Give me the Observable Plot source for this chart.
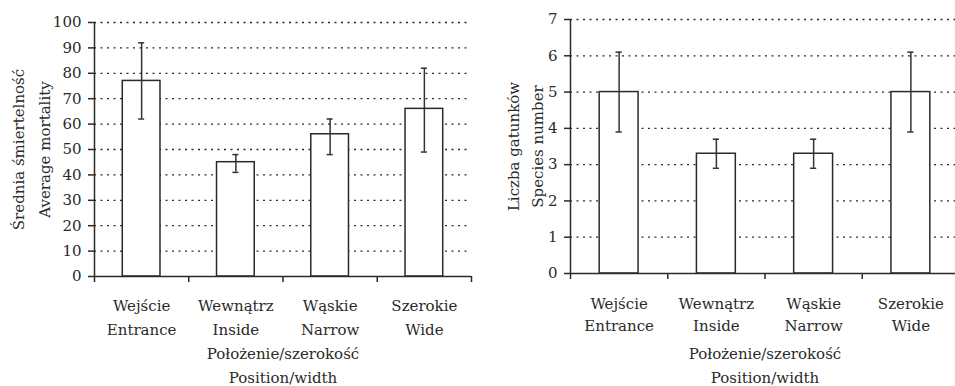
<!DOCTYPE html>
<html><head><meta charset="utf-8">
<script src="https://cdn.jsdelivr.net/npm/d3@7"></script>
<script src="https://cdn.jsdelivr.net/npm/@observablehq/plot@0.6"></script>
<style>
html,body{margin:0;padding:0;background:#fff;overflow:hidden;width:955px;height:386px}
#wrap{display:flex;width:955px;height:386px;overflow:hidden}
#wrap svg{flex:none;display:block;overflow:visible}
</style></head><body><div id="wrap"></div>
<script>
const categoriesPl = ["Wejście", "Wewnątrz", "Wąskie", "Szerokie"];
const categoriesEn = ["Entrance", "Inside", "Narrow", "Wide"];
const mortality = [77, 45, 56, 66];
const mortalityLow = [62, 41, 48, 49];
const mortalityHigh = [92, 48, 62, 82];
const species = [5, 3.3, 3.3, 5];
const speciesLow = [3.9, 2.9, 2.9, 3.9];
const speciesHigh = [6.1, 3.7, 3.7, 6.1];
const mortalityTicks = [0, 10, 20, 30, 40, 50, 60, 70, 80, 90, 100];
const speciesTicks = [0, 1, 2, 3, 4, 5, 6, 7];
const xTitle = "Położenie/szerokość\nPosition/width";
const yTitleLeft = "Średnia śmiertelność\nAverage mortality";
const yTitleRight = "Liczba gatunków\nSpecies number";

const ink = "#2a2a2a";
const font = "DejaVu Serif";

function panel(o) {
  const rows = o.values.map((v, i) => ({i, v, lo: o.low[i], hi: o.high[i], pl: categoriesPl[i], en: categoriesEn[i]}));
  const n = rows.length;
  return Plot.plot({
    width: o.width, height: 386,
    marginLeft: o.marginLeft, marginRight: o.marginRight,
    marginTop: o.marginTop, marginBottom: o.marginBottom,
    style: {fontFamily: font, fontSize: "15px", color: ink, background: "white", overflow: "visible"},
    x: {domain: [0, n], axis: null},
    y: {domain: [0, o.ticks[o.ticks.length - 1]], axis: null},
    marks: [
      Plot.ruleY(o.ticks.filter(t => t > 0), {stroke: ink, strokeWidth: 1.3, strokeDasharray: "2,4.5"}),
      Plot.rectY(rows, {x1: d => d.i + 0.3, x2: d => d.i + 0.7, y1: 0, y2: "v", fill: "white", stroke: ink, strokeWidth: 1.5}),
      Plot.ruleX(rows, {x: d => d.i + 0.5, y1: "lo", y2: "hi", stroke: "#333", strokeWidth: 1.5}),
      Plot.ruleY(rows, {y: "lo", x1: d => d.i + 0.468, x2: d => d.i + 0.532, stroke: "#333", strokeWidth: 1.5}),
      Plot.ruleY(rows, {y: "hi", x1: d => d.i + 0.468, x2: d => d.i + 0.532, stroke: "#333", strokeWidth: 1.5}),
      Plot.ruleX([0], {stroke: ink, strokeWidth: 1.5}),
      Plot.ruleY([0], {stroke: ink, strokeWidth: 1.5}),
      Plot.axisY({ticks: o.ticks, tickSize: 6, tickPadding: 7, tickFormat: d3.format("d"), label: null, fontSize: 15, stroke: ink, strokeWidth: 1.5}),
      Plot.axisX({ticks: d3.range(n + 1), tickSize: 6, tickFormat: () => "", label: null, stroke: ink, strokeWidth: 1.5}),
      Plot.text(rows, {x: d => d.i + 0.5, frameAnchor: "bottom", lineAnchor: "middle", text: d => d.pl + "\n" + d.en, dy: o.catDy, lineHeight: o.catLH, fontSize: 15, fill: ink}),
      Plot.text([xTitle], {frameAnchor: "bottom", lineAnchor: "middle", text: d => d, dy: o.titleDy, lineHeight: 1.55, fontSize: 15, fill: ink}),
      Plot.text([o.yTitle], {frameAnchor: "left", textAnchor: "middle", lineAnchor: "middle", rotate: -90, text: d => d, dx: o.yTitleDx, lineHeight: o.yLH, fontSize: 15, fill: ink})
    ]
  });
}

const wrap = document.getElementById("wrap");
wrap.appendChild(panel({
  values: mortality, low: mortalityLow, high: mortalityHigh, ticks: mortalityTicks,
  yTitle: yTitleLeft, width: 478, marginLeft: 94, marginRight: 7, marginTop: 22, marginBottom: 110,
  yTitleDx: -66, yLH: 1.75, catDy: 39, catLH: 1.6, titleDy: 87
}));
wrap.appendChild(panel({
  values: species, low: speciesLow, high: speciesHigh, ticks: speciesTicks,
  yTitle: yTitleRight, width: 481, marginLeft: 92, marginRight: 0, marginTop: 19, marginBottom: 113,
  yTitleDx: -47, yLH: 1.55, catDy: 39, catLH: 1.47, titleDy: 90
}));
</script>
</body></html>
